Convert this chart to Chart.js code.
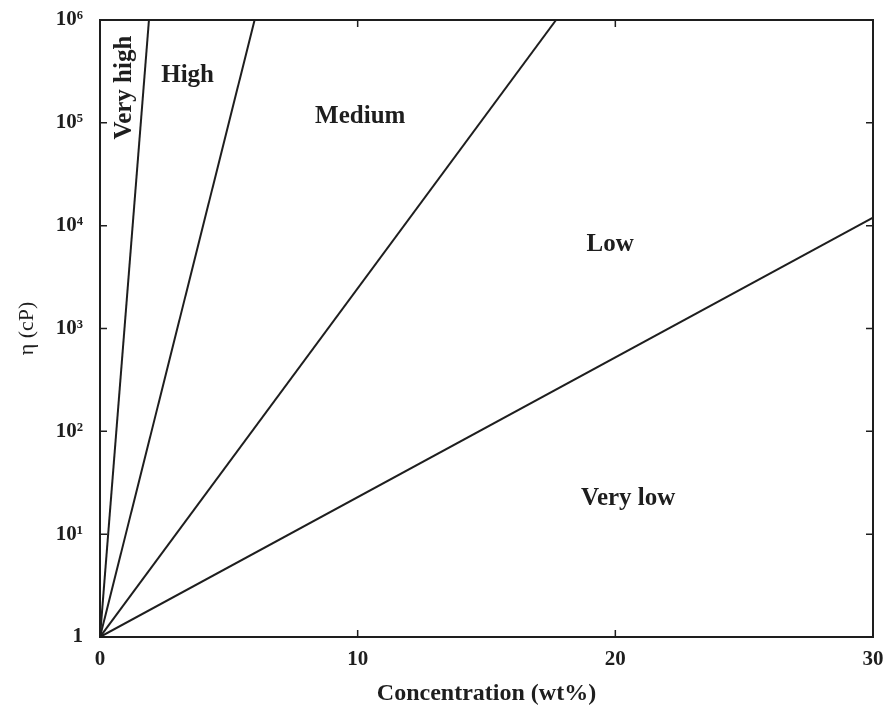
<!DOCTYPE html>
<html>
<head>
<meta charset="utf-8">
<script src="https://cdn.jsdelivr.net/npm/chart.js@4"></script>
<style>
  body { margin: 0; background: #fff; }
  #wrap { width: 892px; height: 710px; }
</style>
</head>
<body>
<div id="wrap"><canvas id="chart" width="892" height="710"></canvas></div>
<script>
// Viscosity regions vs concentration

const START_CONC = 0;
const START_VISC = 1;

// where each boundary line ends
const lineEndConc = [1.9, 6, 17.7, 30];
const lineEndVisc = [1e6, 1e6, 1e6, 1.2e4];

const regionNames = ["Very high", "High", "Medium", "Low", "Very low"];
const regionConc = [0.97, 3.4, 10.1, 19.8, 20.5];
const regionVisc = [2.2e5, 2.9e5, 1.15e5, 6.6e3, 22];

const xTickValues = [0, 10, 20, 30];
const yTickValues = [1, 10, 100, 1e3, 1e4, 1e5, 1e6];
const yTickLabels = ["1", "10\u00b9", "10\u00b2", "10\u00b3", "10\u2074", "10\u2075", "10\u2076"];

const INK = "#1e1e1e";
const SERIF = "'Liberation Serif', 'DejaVu Serif', serif";

const datasets = lineEndConc.map((c, i) => ({
  data: [
    { x: START_CONC, y: START_VISC },
    { x: c, y: lineEndVisc[i] },
  ],
  showLine: true,
  borderColor: INK,
  borderWidth: 2,
  pointRadius: 0,
  fill: false,
}));

// frame with inward ticks on every side + region labels
const framePlugin = {
  id: "frame",
  afterDatasetsDraw(chart) {
    const { ctx, chartArea: a, scales } = chart;
    const xs = scales.x, ys = scales.y;
    ctx.save();
    ctx.strokeStyle = INK;
    ctx.lineWidth = 2;
    ctx.strokeRect(a.left, a.top, a.right - a.left, a.bottom - a.top);
    ctx.lineWidth = 1.5;
    ctx.beginPath();
    xTickValues.forEach(v => {
      const px = xs.getPixelForValue(v);
      ctx.moveTo(px, a.bottom); ctx.lineTo(px, a.bottom - 7);
      ctx.moveTo(px, a.top); ctx.lineTo(px, a.top + 7);
    });
    yTickValues.forEach(v => {
      const py = ys.getPixelForValue(v);
      ctx.moveTo(a.left, py); ctx.lineTo(a.left + 7, py);
      ctx.moveTo(a.right, py); ctx.lineTo(a.right - 7, py);
    });
    ctx.stroke();

    ctx.fillStyle = INK;
    ctx.font = "bold 25px " + SERIF;
    ctx.textAlign = "center";
    ctx.textBaseline = "middle";
    regionNames.forEach((name, i) => {
      const px = xs.getPixelForValue(regionConc[i]);
      const py = ys.getPixelForValue(regionVisc[i]);
      ctx.save();
      ctx.translate(px, py);
      if (i === 0) ctx.rotate(-Math.PI / 2);
      ctx.fillText(name, 0, 0);
      ctx.restore();
    });
    ctx.restore();
  },
};

new Chart(document.getElementById("chart"), {
  type: "scatter",
  data: { datasets },
  plugins: [framePlugin],
  options: {
    responsive: false,
    devicePixelRatio: 1,
    animation: false,
    layout: { padding: { top: 20, right: 19, left: 0, bottom: 0 } },
    plugins: {
      legend: { display: false },
      tooltip: { enabled: false },
    },
    scales: {
      x: {
        type: "linear",
        min: 0,
        max: 30,
        afterFit: s => {
          s.height = 73;
          s.paddingLeft = 0;
          s.paddingRight = 0;
        },
        afterBuildTicks: s => { s.ticks = xTickValues.map(v => ({ value: v })); },
        border: { display: false },
        grid: { display: false, drawTicks: false },
        ticks: {
          padding: 10,
          color: INK,
          font: { family: SERIF, size: 21, weight: "bold" },
        },
        title: {
          display: true,
          text: "Concentration (wt%)",
          color: INK,
          font: { family: SERIF, size: 24, weight: "bold" },
          padding: { top: 0, bottom: 2 },
        },
      },
      y: {
        type: "logarithmic",
        min: 1,
        max: 1e6,
        afterFit: s => {
          s.width = 100;
          s.paddingTop = 0;
          s.paddingBottom = 0;
        },
        afterBuildTicks: s => { s.ticks = yTickValues.map(v => ({ value: v })); },
        border: { display: false },
        grid: { display: false, drawTicks: false },
        ticks: {
          padding: 17,
          color: INK,
          font: { family: SERIF, size: 21, weight: "bold" },
          callback: (v) => {
            const i = yTickValues.indexOf(v);
            return i >= 0 ? yTickLabels[i] : "";
          },
        },
        title: {
          display: true,
          text: "\u03b7 (cP)",
          color: INK,
          font: { family: SERIF, size: 22 },
          padding: { top: 14, bottom: 0 },
        },
      },
    },
  },
});
</script>
</body>
</html>
